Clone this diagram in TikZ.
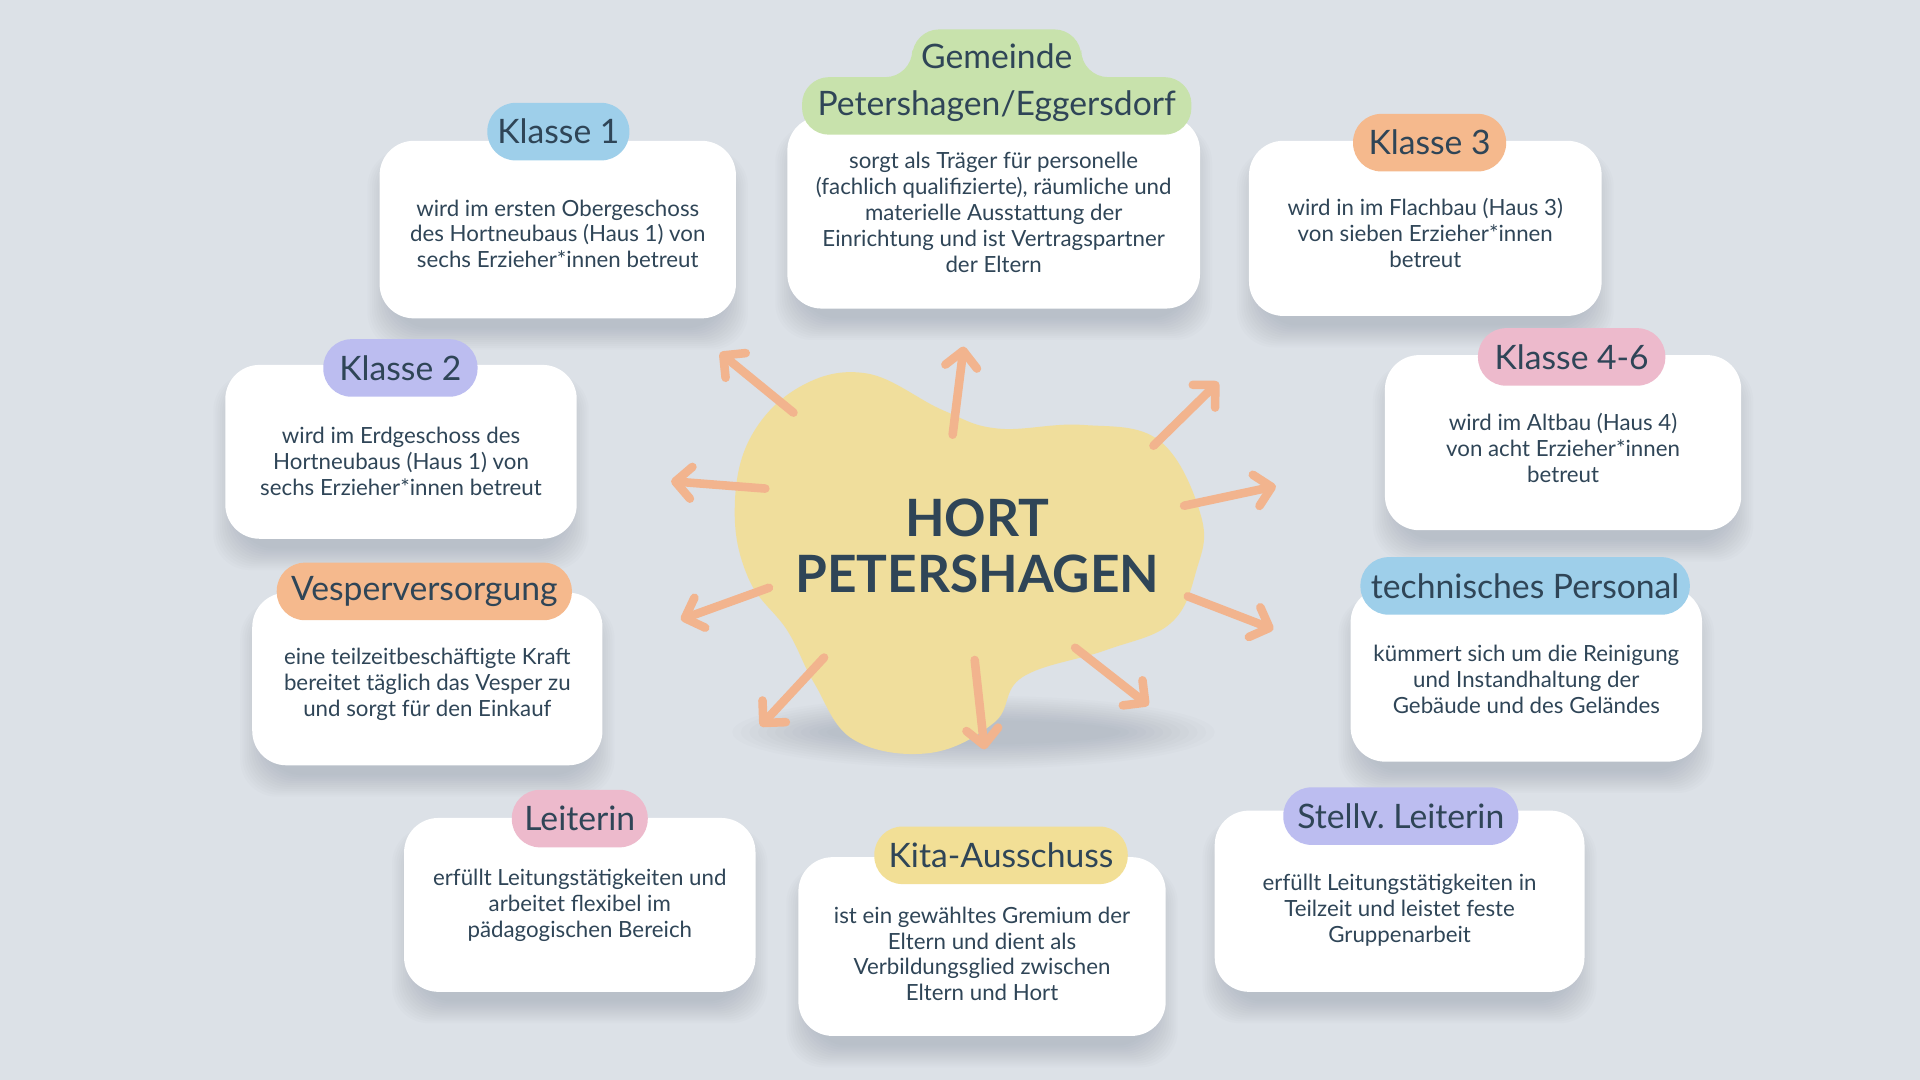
\documentclass[tikz,border=0pt]{standalone}
\usepackage{fontspec}
\setmainfont{Lato}
\usetikzlibrary{arrows.meta}
\definecolor{bgc}{HTML}{DCE1E7}
\definecolor{textc}{HTML}{2F4557}
\definecolor{arrowc}{HTML}{F2B48E}
\definecolor{blobc}{HTML}{F0DE9C}
\definecolor{shadowc}{HTML}{7D8898}
\definecolor{blueT}{HTML}{9ECFEA}
\definecolor{greenT}{HTML}{C8E2AC}
\definecolor{orangeT}{HTML}{F5B98D}
\definecolor{pinkT}{HTML}{EDBACC}
\definecolor{lavT}{HTML}{BCBDF0}
\definecolor{yellowT}{HTML}{F2DF96}
\tikzset{
  card/.style={fill=white, rounded corners=28pt, draw=none, inner sep=0pt},
  cardtext/.style={align=center, text=textc, font=\fontsize{18.2}{21.2}\selectfont, inner sep=0pt},
  tagbox/.style={rounded corners=23pt, minimum height=47pt, inner sep=0pt, text=textc,
    font=\fontsize{27.5}{30}\selectfont},
  tagtext/.style={inner sep=0pt, text=textc, font=\fontsize{27.5}{30}\selectfont},
  ray/.style={draw=arrowc, line width=7pt, line cap=round,
    -{Straight Barb[length=13pt,width=26pt,line cap=round,line join=round]}},
  hubtext/.style={align=center, text=textc, font=\fontsize{42}{46}\bfseries\selectfont, inner sep=0pt},
}
% name, cx, cy, w, h, text centre y, text
\newcommand\mycard[7]{%
  \foreach \i in {0,...,11}{%
    \fill[shadowc,opacity=0.03,rounded corners=30pt]
      (#2-#4/2+10-\i*1.8, #3-#5/2+14-\i*0.6) rectangle (#2+#4/2-10+\i*1.8, #3+#5/2+8+\i*1.6);}
  \node[card, minimum width=#4pt, minimum height=#5pt] (#1) at (#2,#3) {};
  \node[cardtext] (#1txt) at (#2,#6) {#7};
}
\begin{document}
\begin{tikzpicture}[x=1pt,y=-1pt]
\fill[bgc] (0,0) rectangle (1568,882);
\useasboundingbox (0,0) rectangle (1568,882);

% blob shadow
\foreach \i in {0,...,11}{%
  \fill[shadowc,opacity=0.03] (795,598) ellipse ({120+\i*7} and {10+\i*1.8});}
% blob
\fill[blobc] plot[smooth cycle, tension=0.65] coordinates {
  (653,316) (708,305) (770,335) (815,350) (884,347) (947,360) (981,422)
  (977,466) (956,509) (903,531) (835,553) (812,590) (759,615) (697,604)
  (665,558) (643,515) (612,474) (600,419) (612,359)};
\node[hubtext] (hub) at (798,446) {HORT\\PETERSHAGEN};

% arrows
\coordinate (a1s) at (648,337); \coordinate (a1e) at (588,288);
\coordinate (a2s) at (778,355); \coordinate (a2e) at (787,283);
\coordinate (a3s) at (942,364); \coordinate (a3e) at (995,312);
\coordinate (a4s) at (625,399); \coordinate (a4e) at (548,393);
\coordinate (a5s) at (967,413); \coordinate (a5e) at (1042,397);
\coordinate (a6s) at (628,480); \coordinate (a6e) at (556,506);
\coordinate (a7s) at (970,487); \coordinate (a7e) at (1040,514);
\coordinate (a8s) at (673,537); \coordinate (a8e) at (621,593);
\coordinate (a9s) at (796,539); \coordinate (a9e) at (804,612);
\coordinate (a10s) at (878,529); \coordinate (a10e) at (938,576);
\foreach \k in {1,...,10}{\draw[ray] (a\k s) -- (a\k e);}

% cards
\mycard{k1}{455.5}{187.5}{291}{145}{191}{wird im ersten Obergeschoss\\des Hortneubaus (Haus 1) von\\sechs Erzieher*innen betreut}
\mycard{gem}{811.5}{173.5}{337}{157}{173.5}{sorgt als Träger für personelle\\(fachlich qualifizierte), räumliche und\\materielle Ausstattung der\\Einrichtung und ist Vertragspartner\\der Eltern}
\mycard{k3}{1164}{186.5}{288}{143}{190.5}{wird in im Flachbau (Haus 3)\\von sieben Erzieher*innen\\betreut}
\mycard{k46}{1276.5}{361.5}{291}{143}{366}{wird im Altbau (Haus 4)\\von acht Erzieher*innen\\betreut}
\mycard{k2}{327.5}{369}{287}{142}{376.5}{wird im Erdgeschoss des\\Hortneubaus (Haus 1) von\\sechs Erzieher*innen betreut}
\mycard{vesp}{349}{554.5}{286}{141}{559}{eine teilzeitbeschäftigte Kraft\\bereitet täglich das Vesper zu\\und sorgt für den Einkauf}
\mycard{tech}{1246.5}{551}{287}{142}{554.5}{kümmert sich um die Reinigung\\und Instandhaltung der\\Gebäude und des Geländes}
\mycard{leit}{473.5}{739}{287}{142}{739.5}{erfüllt Leitungstätigkeiten und\\arbeitet flexibel im\\pädagogischen Bereich}
\mycard{kita}{802}{773}{300}{146}{779}{ist ein gewähltes Gremium der\\Eltern und dient als\\Verbildungsglied zwischen\\Eltern und Hort}
\mycard{stellv}{1143}{736}{302}{148}{743}{erfüllt Leitungstätigkeiten in\\Teilzeit und leistet feste\\Gruppenarbeit}

% tags
\node[tagbox, fill=blueT, minimum width=116pt] (t1) at (456,107.5) {Klasse 1};
\fill[greenT, rounded corners=22pt] (814,110) -- (655,110) -- (655,63) -- (745,63) -- (745,24)
  -- (883,24) -- (883,63) -- (973,63) -- (973,110) -- (814,110);
\node[tagtext] (tg1) at (814,46) {Gemeinde};
\node[tagtext] (tg2) at (814,87) {Petershagen/Eggersdorf};
\node[tagbox, fill=orangeT, minimum width=125pt] (t3) at (1167.5,116.5) {Klasse 3};
\node[tagbox, fill=pinkT, minimum width=153pt] (t46) at (1283.5,291.5) {Klasse 4-6};
\node[tagbox, fill=lavT, minimum width=126pt] (t2) at (327,300.5) {Klasse 2};
\node[tagbox, fill=orangeT, minimum width=241pt] (tv) at (346.5,483) {Vesperversorgung};
\node[tagbox, fill=blueT, minimum width=269pt] (tt) at (1245.5,478.5) {technisches Personal};
\node[tagbox, fill=pinkT, minimum width=111pt] (tl) at (473.5,668.5) {Leiterin};
\node[tagbox, fill=yellowT, minimum width=207pt] (tk) at (817.5,698.5) {Kita-Ausschuss};
\node[tagbox, fill=lavT, minimum width=192pt] (ts) at (1144,666.5) {Stellv.\ Leiterin};
\end{tikzpicture}
\end{document}
